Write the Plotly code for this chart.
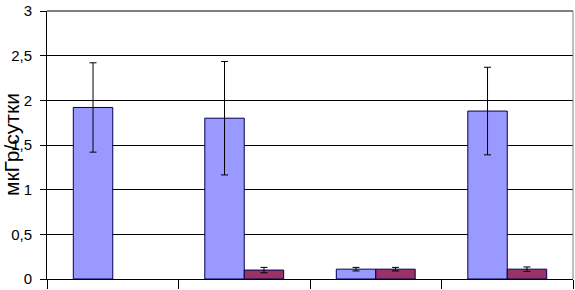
import plotly.graph_objects as go

categories = ["1", "2", "3", "4"]
series_a = [1.92, 1.80, 0.11, 1.88]
err_a = [0.50, 0.635, 0.02, 0.49]
series_b = [None, 0.10, 0.11, 0.11]
err_b = [0, 0.03, 0.02, 0.025]
y_ticks = [0, 0.5, 1, 1.5, 2, 2.5, 3]
y_tick_labels = ["0", "0,5", "1", "1,5", "2", "2,5", "3"]
y_title = "мкГр/сутки"

fig = go.Figure()
fig.add_trace(go.Bar(
    x=categories, y=series_a,
    marker=dict(color="#9999FF", line=dict(color="#000050", width=1)),
    error_y=dict(type="data", array=err_a, color="#000000", thickness=1, width=3.5),
))
fig.add_trace(go.Bar(
    x=categories, y=series_b,
    marker=dict(color="#993366", line=dict(color="#000050", width=1)),
    error_y=dict(type="data", array=err_b, color="#000000", thickness=1, width=3.5),
))

fig.update_layout(
    width=575, height=290,
    margin=dict(l=47, r=2, t=6, b=7),
    paper_bgcolor="white", plot_bgcolor="white",
    barmode="group", bargap=0.4, bargroupgap=0,
    showlegend=False,
    font=dict(family="Liberation Sans, Arial, sans-serif", size=15, color="black"),
)
fig.update_xaxes(
    type="category", showticklabels=False,
    showline=True, linecolor="black", linewidth=1,
    ticks="outside", tickson="boundaries", ticklen=9, tickcolor="black",
    showgrid=False,
)
fig.update_yaxes(
    range=[0, 3], tickvals=y_ticks, ticktext=y_tick_labels,
    showline=True, linecolor="black", linewidth=1,
    ticks="outside", ticklen=6, tickcolor="black",
    ticklabelstandoff=5, ticklabeloverflow="allow",
    showgrid=True, gridcolor="#000000", gridwidth=1,
    zeroline=False,
    tickfont=dict(size=15),
)
fig.add_annotation(
    text=y_title, textangle=-90, showarrow=False,
    xref="paper", yref="paper", x=0, y=0.5, xshift=-36,
    xanchor="center", yanchor="middle",
    font=dict(size=21, color="black"),
)
fig.add_shape(type="line", xref="paper", yref="paper", x0=1, x1=1, y0=0, y1=1,
              line=dict(color="#808080", width=1))
fig.add_shape(type="line", xref="paper", yref="paper", x0=0, x1=1, y0=1, y1=1,
              line=dict(color="#808080", width=2))
fig.write_html(
    "out.html",
    config={"displayModeBar": False},
    post_script="document.body.style.margin='0';document.body.style.overflow='hidden';",
)
